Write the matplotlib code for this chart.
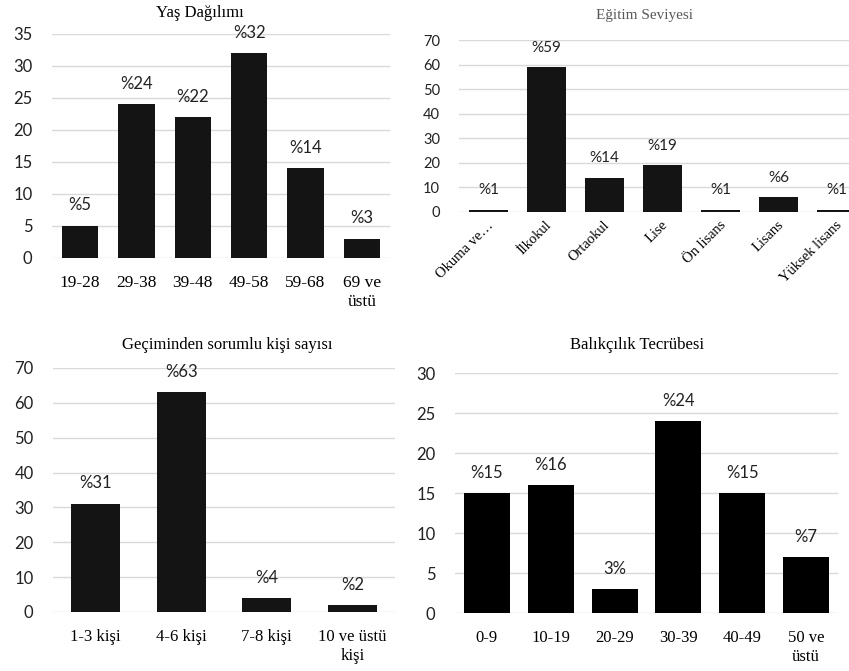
import matplotlib

matplotlib.use("Agg")
import matplotlib.pyplot as plt
import matplotlib.transforms as mtransforms

# Yaş Dağılımı
age_groups = ["19-28", "29-38", "39-48", "49-58", "59-68", "69 ve\nüstü"]
age_counts = [5, 24, 22, 32, 14, 3]

# Eğitim Seviyesi
edu_levels = ["Okuma ve…", "İlkokul", "Ortaokul", "Lise", "Ön lisans", "Lisans", "Yüksek lisans"]
edu_counts = [1, 59, 14, 19, 1, 6, 1]

# Geçiminden sorumlu kişi sayısı
household = ["1-3 kişi", "4-6 kişi", "7-8 kişi", "10 ve üstü\nkişi"]
household_counts = [31, 63, 4, 2]

# Balıkçılık Tecrübesi
experience = ["0-9", "10-19", "20-29", "30-39", "40-49", "50 ve\nüstü"]
experience_counts = [15, 16, 3, 24, 15, 7]

SERIF = "Liberation Serif"
SANS = "Lato"
GRID = "#d9d9d9"

W, H = 849, 671
fig = plt.figure(figsize=(W / 100, H / 100), dpi=100)


def px_axes(x0, y0, x1, y1):
    """Axes from pixel box (top-left origin)."""
    return fig.add_axes([x0 / W, 1 - y1 / H, (x1 - x0) / W, (y1 - y0) / H])


def bar_panel(ax, cats, vals, ymax, step, width, color, fs_tick, fs_cat, fs_lab,
              label_fmt=None, cat_pad=8):
    x = range(len(cats))
    ax.bar(x, vals, width=width, color=color, zorder=3)
    ax.set_xlim(-0.5, len(cats) - 0.5)
    ax.set_ylim(0, ymax)
    ax.set_yticks(range(0, ymax + 1, step))
    ax.grid(axis="y", color=GRID, linewidth=1.0, zorder=0)
    for s in ax.spines.values():
        s.set_visible(False)
    ax.tick_params(axis="y", length=0, pad=14, labelsize=fs_tick, labelcolor="#222222")
    ax.tick_params(axis="x", length=0, pad=cat_pad)
    for t in ax.get_yticklabels():
        t.set_fontfamily(SANS)
    ax.set_xticks(list(x))
    ax.set_xticklabels(cats, fontfamily=SERIF, fontsize=fs_cat, linespacing=1.3)
    labels = label_fmt or [f"%{v}" for v in vals]
    for i, (v, lab) in enumerate(zip(vals, labels)):
        ax.annotate(lab, (i, v), xytext=(0, 9), textcoords="offset points",
                    ha="center", va="bottom", fontsize=fs_lab, fontfamily=SANS,
                    color="#222222")


# top left
ax1 = px_axes(52, 34, 390, 258)
bar_panel(ax1, age_groups, age_counts, 35, 5, 0.64, "#141414", 12, 12.5, 12, cat_pad=12)
fig.text(200 / W, 1 - 13 / H, "Yaş Dağılımı", ha="center", va="center",
         fontfamily=SERIF, fontsize=12)

# top right
ax2 = px_axes(459.5, 40, 865.5, 212)
bar_panel(ax2, edu_levels, edu_counts, 70, 10, 0.68, "#141414", 10.5, 10.5, 11)
offset = mtransforms.ScaledTranslation(3 / 100, 0, fig.dpi_scale_trans)
for t in ax2.get_xticklabels():
    t.set_rotation(45)
    t.set_ha("right")
    t.set_va("center")
    t.set_rotation_mode("anchor")
    t.set_transform(t.get_transform() + offset)
fig.text(644 / W, 1 - 15 / H, "Eğitim Seviyesi", ha="center", va="center",
         fontfamily=SERIF, fontsize=11, color="#595959")

# bottom left
ax3 = px_axes(53, 368, 395, 612)
bar_panel(ax3, household, household_counts, 70, 10, 0.57, "#141414", 12, 12, 12, cat_pad=12)
fig.text(227 / W, 1 - 345 / H, "Geçiminden sorumlu kişi sayısı", ha="center", va="center",
         fontfamily=SERIF, fontsize=12)

# bottom right
exp_labels = [f"%{v}" for v in experience_counts]
exp_labels[2] = f"{experience_counts[2]}%"
ax4 = px_axes(455, 373, 838, 613)
bar_panel(ax4, experience, experience_counts, 30, 5, 0.72, "black", 12, 12, 12,
          label_fmt=exp_labels, cat_pad=12)
fig.text(637 / W, 1 - 345 / H, "Balıkçılık Tecrübesi", ha="center", va="center",
         fontfamily=SERIF, fontsize=12)

fig.savefig("out.png", dpi=100)
